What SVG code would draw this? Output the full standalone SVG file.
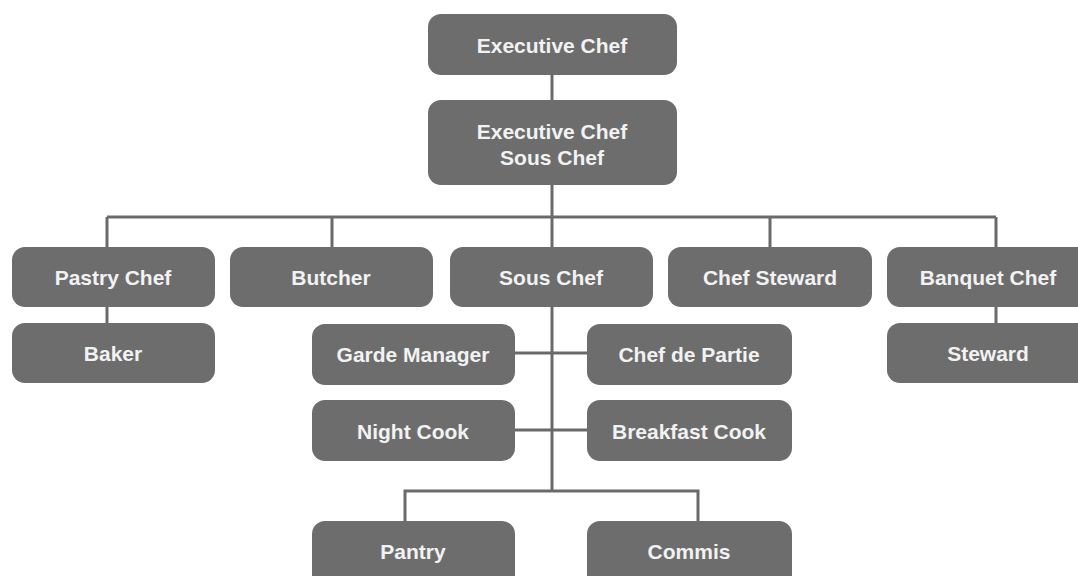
<svg xmlns="http://www.w3.org/2000/svg" width="1078" height="576" viewBox="0 0 1078 576">
  <style>
    .box { fill: #6d6d6d; }
    .lbl { fill: #f2f2f2; font-family: "Liberation Sans", Arial, sans-serif; font-weight: bold; font-size: 21px; text-anchor: middle; dominant-baseline: central; }
    .wire { fill: none; stroke: #6a6a6a; stroke-width: 3; }
  </style>
  <rect width="1078" height="576" fill="#ffffff"/>

  <!-- connectors -->
  <g id="connectors" class="wire">
    <path d="M552 75 V100"/>
    <path d="M552 185 V307"/>
    <path d="M107 217 H996"/>
    <path d="M107 217 V247 M332 217 V247 M770 217 V247 M996 217 V247"/>
    <path d="M107 307 V323"/>
    <path d="M996 307 V323"/>
    <path d="M552 307 V491"/>
    <path d="M515 353 H587"/>
    <path d="M515 430 H587"/>
    <path d="M405 521 V491 H698 V521"/>
  </g>

  <!-- top levels -->
  <g id="executive-chef">
    <rect class="box" x="428" y="14" width="249" height="61" rx="13"/>
    <text class="lbl" x="552" y="45">Executive Chef</text>
  </g>
  <g id="executive-sous-chef">
    <rect class="box" x="428" y="100" width="249" height="85" rx="13"/>
    <text class="lbl" x="552" y="131">Executive Chef</text>
    <text class="lbl" x="552" y="157">Sous Chef</text>
  </g>

  <!-- department heads -->
  <g id="pastry-chef">
    <rect class="box" x="12" y="247" width="203" height="60" rx="13"/>
    <text class="lbl" x="113" y="277">Pastry Chef</text>
  </g>
  <g id="butcher">
    <rect class="box" x="230" y="247" width="203" height="60" rx="13"/>
    <text class="lbl" x="331" y="277">Butcher</text>
  </g>
  <g id="sous-chef">
    <rect class="box" x="450" y="247" width="203" height="60" rx="13"/>
    <text class="lbl" x="551" y="277">Sous Chef</text>
  </g>
  <g id="chef-steward">
    <rect class="box" x="668" y="247" width="204" height="60" rx="13"/>
    <text class="lbl" x="770" y="277">Chef Steward</text>
  </g>
  <g id="banquet-chef">
    <rect class="box" x="887" y="247" width="210" height="60" rx="13"/>
    <text class="lbl" x="988" y="277">Banquet Chef</text>
  </g>

  <!-- staff -->
  <g id="baker">
    <rect class="box" x="12" y="323" width="203" height="60" rx="13"/>
    <text class="lbl" x="113" y="353">Baker</text>
  </g>
  <g id="steward">
    <rect class="box" x="887" y="323" width="210" height="60" rx="13"/>
    <text class="lbl" x="988" y="353">Steward</text>
  </g>
  <g id="garde-manager">
    <rect class="box" x="312" y="324" width="203" height="61" rx="13"/>
    <text class="lbl" x="413" y="354">Garde Manager</text>
  </g>
  <g id="chef-de-partie">
    <rect class="box" x="587" y="324" width="205" height="61" rx="13"/>
    <text class="lbl" x="689" y="354">Chef de Partie</text>
  </g>
  <g id="night-cook">
    <rect class="box" x="312" y="400" width="203" height="61" rx="13"/>
    <text class="lbl" x="413" y="431">Night Cook</text>
  </g>
  <g id="breakfast-cook">
    <rect class="box" x="587" y="400" width="205" height="61" rx="13"/>
    <text class="lbl" x="689" y="431">Breakfast Cook</text>
  </g>
  <g id="pantry">
    <rect class="box" x="312" y="521" width="203" height="70" rx="13"/>
    <text class="lbl" x="413" y="551">Pantry</text>
  </g>
  <g id="commis">
    <rect class="box" x="587" y="521" width="205" height="70" rx="13"/>
    <text class="lbl" x="689" y="551">Commis</text>
  </g>
</svg>
